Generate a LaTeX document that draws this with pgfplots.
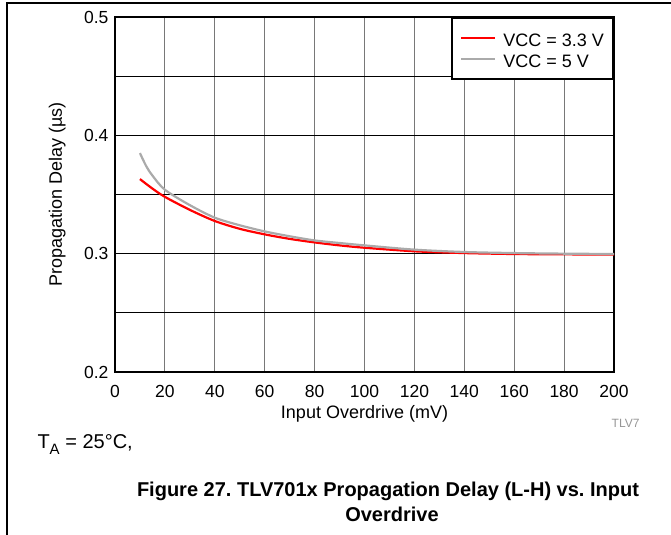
\documentclass[border=0pt]{standalone}
\usepackage{fontspec}
\setmainfont{Liberation Sans}
\usepackage{pgfplots}
\pgfplotsset{compat=1.18}
\frenchspacing

\definecolor{vcclow}{RGB}{255,0,0}
\definecolor{vcchigh}{RGB}{170,170,170}
\definecolor{gridgray}{RGB}{120,120,120}
\definecolor{notegray}{RGB}{150,150,150}

\begin{document}
\begin{tikzpicture}[x=1bp,y=1bp,font=\fontsize{18bp}{21bp}\selectfont]
  \useasboundingbox (0,0) rectangle (671,535);
  % page frame (only top and left edges show)
  \draw[line width=1.2bp] (7,0) -- (7,532) -- (671,532);

  \begin{axis}[
      at={(115bp,163bp)}, anchor=south west,
      scale only axis,
      width=499bp, height=355bp,
      xmin=0, xmax=200, ymin=0.2, ymax=0.5,
      xtick={0,20,...,200},
      ytick={0.2,0.3,0.4,0.5},
      minor ytick={0.25,0.35,0.45},
      major tick length=0pt, minor tick length=0pt,
      xmajorgrids, ymajorgrids, yminorgrids,
      x grid style={gridgray, line width=1.1bp},
      y grid style={black, line width=0.8bp},
      minor y grid style={black, line width=0.8bp},
      axis line style={line width=2bp},
      /pgf/number format/assume math mode=true,
      tick label style={font=\fontsize{17.5bp}{20bp}\selectfont},
      yticklabel={\pgfmathprintnumber[fixed,fixed zerofill,precision=1]{\tick}},
      xticklabel style={anchor=base, yshift=-26bp},
      yticklabel style={xshift=-3bp},
      xlabel={Input Overdrive (mV)},
      ylabel={Propagation Delay (µs)},
      every axis x label/.style={at={(axis description cs:0.5,-0.13)}, anchor=base},
      every axis y label/.style={at={(axis description cs:-0.116,0.5)}, rotate=90, anchor=center},
      legend style={at={(1,1)}, anchor=north east, draw=black, line width=2bp,
        inner xsep=8bp, inner ysep=10.4bp, row sep=2bp,
        nodes={inner sep=1bp, text height=17bp, text depth=0bp},
        /tikz/every odd column/.style={column sep=6bp},
        /tikz/every even column/.style={column sep=0bp}},
      legend cell align=left,
      legend image code/.code={\draw[#1, line width=2.2bp] (0bp,0bp) -- (34bp,0bp);},
    ]
    \addplot[vcclow, line width=2.2bp, smooth] coordinates {
      (10,0.363) (15,0.355) (20,0.348) (30,0.337) (40,0.3276) (50,0.321)
      (60,0.3163) (70,0.3125) (80,0.3095) (90,0.307) (100,0.305) (120,0.302)
      (140,0.3005) (160,0.2997) (180,0.2994) (200,0.2993)
    };
    \addlegendentry{VCC = 3.3 V}
    \addplot[vcchigh, line width=2.2bp, smooth] coordinates {
      (10,0.385) (12.5,0.374) (15,0.366) (20,0.354) (30,0.341) (40,0.3304)
      (50,0.324) (60,0.3188) (70,0.3147) (80,0.3112) (90,0.309) (100,0.307)
      (120,0.3034) (140,0.3014) (160,0.3005) (180,0.3) (200,0.2997)
    };
    \addlegendentry{VCC = 5 V}
  \end{axis}

  \node[anchor=base east, text=notegray, font=\fontsize{12bp}{14bp}\selectfont] at (643,107) {TLV7};
  \node[anchor=base west, font=\fontsize{20bp}{24bp}\selectfont] at (34,86) {T\raisebox{-0.3em}{\fontsize{15bp}{15bp}\selectfont A} = 25°C,};
  \node[anchor=base, font=\fontsize{20bp}{24bp}\selectfont\bfseries] at (388,38) {Figure 27. TLV701x Propagation Delay (L-H) vs. Input};
  \node[anchor=base, font=\fontsize{20bp}{24bp}\selectfont\bfseries] at (392,13) {Overdrive};
\end{tikzpicture}
\end{document}
